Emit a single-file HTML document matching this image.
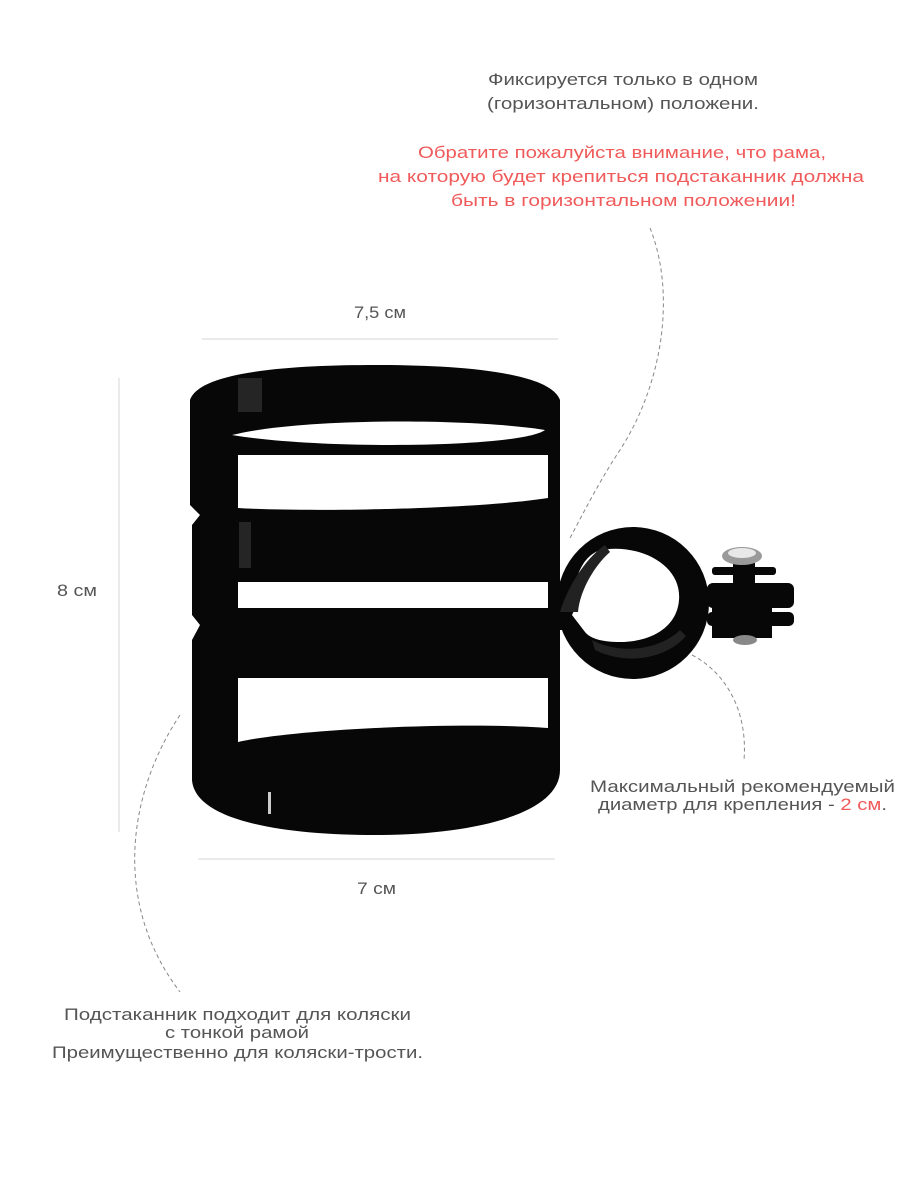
<!DOCTYPE html>
<html><head><meta charset="utf-8"><style>
html,body{margin:0;padding:0;background:#fff;}
svg{display:block;}
text{font-family:"Liberation Sans",sans-serif;font-size:17px;}
</style></head><body>
<svg width="900" height="1200" viewBox="0 0 900 1200" xmlns="http://www.w3.org/2000/svg">
<g fill="#555" text-anchor="start">
<text x="488" y="85" textLength="270" lengthAdjust="spacingAndGlyphs">Фиксируется только в одном</text>
<text x="487" y="109" textLength="272" lengthAdjust="spacingAndGlyphs">(горизонтальном) положени.</text>
</g>
<g fill="#f05a5a">
<text x="418" y="158" textLength="408" lengthAdjust="spacingAndGlyphs">Обратите пожалуйста внимание, что рама,</text>
<text x="378" y="182" textLength="486" lengthAdjust="spacingAndGlyphs">на которую будет крепиться подстаканник должна</text>
<text x="451" y="206" textLength="345" lengthAdjust="spacingAndGlyphs">быть в горизонтальном положении!</text>
</g>
<g fill="#555">
<text x="354" y="318" textLength="52" lengthAdjust="spacingAndGlyphs">7,5 см</text>
<text x="57" y="596" textLength="40" lengthAdjust="spacingAndGlyphs">8 см</text>
<text x="357" y="894" textLength="39" lengthAdjust="spacingAndGlyphs">7 см</text>
<text x="590" y="792" textLength="305" lengthAdjust="spacingAndGlyphs">Максимальный рекомендуемый</text>
<text x="598" y="810" textLength="289" lengthAdjust="spacingAndGlyphs">диаметр для крепления - <tspan fill="#f05a5a">2 см</tspan>.</text>
<text x="64" y="1020" textLength="347" lengthAdjust="spacingAndGlyphs">Подстаканник подходит для коляски</text>
<text x="165" y="1038" textLength="144" lengthAdjust="spacingAndGlyphs">с тонкой рамой</text>
<text x="52" y="1058" textLength="371" lengthAdjust="spacingAndGlyphs">Преимущественно для коляски-трости.</text>
</g>
<g stroke="#d5d5d5" stroke-width="1">
<line x1="202" y1="339" x2="558" y2="339"/>
<line x1="198" y1="859" x2="555" y2="859"/>
<line x1="119" y1="378" x2="119" y2="832"/>
</g>
<g stroke="#888" stroke-width="1" fill="none" stroke-dasharray="4,3">
<path d="M650 228 C675 290 665 380 620 450 C600 480 585 510 570 538"/>
<path d="M692 655 C725 672 748 710 744 760"/>
<path d="M180 715 C130 790 110 900 180 992"/>
</g>
<g fill="#070707">
<path d="M190 400 C200 370 300 365 375 365 C460 365 550 372 560 400 L560 770 C560 815 470 835 375 835 C280 835 195 820 192 780 L192 640 L200 625 L192 615 L192 525 L200 515 L190 505 Z"/>
<circle cx="633" cy="603" r="76"/>
<rect x="555" y="590" width="20" height="40"/>
<rect x="707" y="583" width="87" height="25" rx="6"/>
<rect x="707" y="612" width="87" height="14" rx="5"/>
<rect x="712" y="600" width="60" height="38"/>
<rect x="712" y="567" width="64" height="8" rx="3"/>
<rect x="733" y="562" width="22" height="24"/>
</g>
<ellipse cx="742" cy="556" rx="20" ry="9" fill="#9a9a9a"/>
<ellipse cx="742" cy="553" rx="14" ry="5" fill="#e8e8e8"/>
<ellipse cx="745" cy="640" rx="12" ry="5" fill="#888"/>
<g fill="#fff">
<path d="M232 435 C300 418 470 418 545 430 C520 448 320 450 232 435 Z"/>
<path d="M238 455 L548 455 L548 498 C470 510 300 512 238 508 Z"/>
<rect x="238" y="582" width="310" height="26"/>
<path d="M238 678 L548 678 L548 728 C470 722 300 728 238 742 Z"/>
<path d="M600 550 C640 543 682 565 679 600 C677 628 650 642 620 642 C600 642 590 638 585 632 L572 615 C580 600 580 585 578 575 C583 560 592 553 600 550 Z"/>
</g>
<g fill="#222">
<path d="M560 612 C570 580 590 555 605 545 L610 552 C595 565 580 590 578 612 Z"/>
<path d="M592 640 C620 655 660 650 680 630 L686 636 C665 660 625 665 595 650 Z"/>
</g>
<g fill="#3a3a3a" opacity="0.6">
<rect x="238" y="378" width="24" height="34"/>
<rect x="239" y="522" width="12" height="46"/>
</g>
<rect x="268" y="792" width="3" height="22" fill="#ccc"/>
</svg>
</body></html>
